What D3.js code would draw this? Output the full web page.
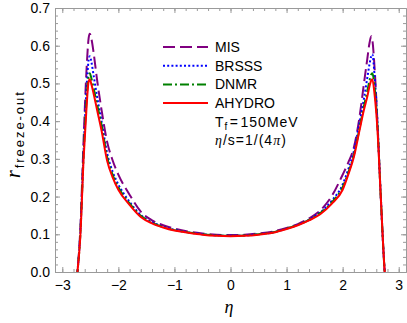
<!DOCTYPE html>
<html>
<head>
<meta charset="utf-8">
<script src="https://cdn.jsdelivr.net/npm/d3@7"></script>
<style>
  body { margin: 0; background: #fff; }
  svg { display: block; font-family: "Liberation Sans", Arial, sans-serif; }
</style>
</head>
<body>
<div id="chart"></div>
<script>
// eta grid shared by every curve
let eta = [-2.78,-2.73,-2.68,-2.62,-2.57,-2.53,-2.51,-2.48,-2.44,-2.38,-2.3,-2.2,-2.1,-2.0,-1.8,-1.6,-1.4,-1.2,-1.0,-0.75,-0.5,-0.25,0,
           0.25,0.5,0.75,1.0,1.2,1.4,1.6,1.8,2.0,2.1,2.2,2.3,2.38,2.44,2.48,2.51,2.53,2.57,2.62,2.68,2.75,2.8];

let mis = [-0.07,0.0,0.11,0.35,0.53,0.62,0.632,0.618,0.58,0.51,0.43,0.345,0.295,0.258,0.205,0.16,0.137,0.124,0.115,0.107,0.102,0.099,0.098,
           0.099,0.102,0.107,0.117,0.127,0.142,0.163,0.2,0.258,0.29,0.33,0.41,0.5,0.565,0.608,0.625,0.615,0.54,0.4,0.2,0.0,-0.09];
let brsss = [-0.065,0.0,0.1,0.32,0.48,0.562,0.572,0.556,0.52,0.465,0.4,0.315,0.265,0.232,0.186,0.151,0.132,0.12,0.112,0.105,0.1,0.097,0.096,
             0.097,0.1,0.105,0.115,0.125,0.139,0.158,0.188,0.232,0.272,0.32,0.395,0.46,0.515,0.552,0.572,0.577,0.52,0.4,0.2,0.0,-0.085];
let dnmr = [-0.06,0.0,0.095,0.31,0.45,0.52,0.527,0.513,0.487,0.445,0.39,0.305,0.257,0.225,0.182,0.149,0.131,0.119,0.111,0.105,0.1,0.097,0.096,
            0.097,0.1,0.105,0.115,0.125,0.138,0.156,0.184,0.225,0.263,0.31,0.38,0.44,0.48,0.508,0.524,0.527,0.49,0.39,0.2,0.0,-0.08];
let ahydro = [-0.06,0.0,0.09,0.30,0.43,0.505,0.511,0.497,0.472,0.43,0.375,0.295,0.25,0.218,0.178,0.146,0.129,0.118,0.110,0.104,0.099,0.096,0.095,
              0.096,0.099,0.104,0.114,0.124,0.137,0.153,0.18,0.218,0.258,0.305,0.375,0.43,0.465,0.493,0.508,0.511,0.47,0.38,0.2,0.0,-0.08];

let names = ['MIS', 'BRSSS', 'DNMR', 'AHYDRO'];
let xTicks = [-3, -2, -1, 0, 1, 2, 3];
let yTicks = [0, 0.1, 0.2, 0.3, 0.4, 0.5, 0.6, 0.7];

let styles = [
  {color: '#800080', dash: '12,5', width: 2},
  {color: '#0000ff', dash: '2,2.2', width: 2},
  {color: '#008000', dash: '9,3,2,3', width: 2},
  {color: '#ff0000', dash: null, width: 2}
];

let width = 407, height = 323;
let plot = {left: 55, right: 406, top: 8, bottom: 272};
let frameColor = '#9a9a9a';

let x = d3.scaleLinear().domain([-3.13, 3.13]).range([plot.left, plot.right]);
let y = d3.scaleLinear().domain([0, 0.7]).range([plot.bottom, plot.top]);

let svg = d3.select('#chart').append('svg')
    .attr('width', width)
    .attr('height', height);

svg.append('clipPath').attr('id', 'clip')
  .append('rect')
    .attr('x', plot.left).attr('y', plot.top)
    .attr('width', plot.right - plot.left).attr('height', plot.bottom - plot.top);

let fmtX = d => d < 0 ? '\u2212' + Math.abs(d) : String(d);
let fmtY = d3.format('.1f');

let xMinor = d3.range(-3, 3.01, 0.2).map(v => +v.toFixed(2));
let yMinor = d3.range(0, 0.701, 0.02).map(v => +v.toFixed(2));

// bottom / top
svg.append('g').attr('transform', `translate(0,${plot.bottom})`)
    .call(d3.axisBottom(x).tickValues(xMinor).tickSizeInner(-3).tickSizeOuter(0).tickFormat(''));
svg.append('g').attr('class', 'xlab').attr('transform', `translate(0,${plot.bottom})`)
    .call(d3.axisBottom(x).tickValues(xTicks).tickSizeInner(-5).tickSizeOuter(0).tickPadding(8).tickFormat(fmtX));
svg.append('g').attr('transform', `translate(0,${plot.top})`)
    .call(d3.axisTop(x).tickValues(xMinor).tickSizeInner(-3).tickSizeOuter(0).tickFormat(''));
svg.append('g').attr('transform', `translate(0,${plot.top})`)
    .call(d3.axisTop(x).tickValues(xTicks).tickSizeInner(-5).tickSizeOuter(0).tickFormat(''));

// left / right
svg.append('g').attr('transform', `translate(${plot.left},0)`)
    .call(d3.axisLeft(y).tickValues(yMinor).tickSizeInner(-3).tickSizeOuter(0).tickFormat(''));
svg.append('g').attr('class', 'ylab').attr('transform', `translate(${plot.left},0)`)
    .call(d3.axisLeft(y).tickValues(yTicks).tickSizeInner(-5).tickSizeOuter(0).tickPadding(5).tickFormat(fmtY));
svg.append('g').attr('transform', `translate(${plot.right},0)`)
    .call(d3.axisRight(y).tickValues(yMinor).tickSizeInner(-3).tickSizeOuter(0).tickFormat(''));
svg.append('g').attr('transform', `translate(${plot.right},0)`)
    .call(d3.axisRight(y).tickValues(yTicks).tickSizeInner(-5).tickSizeOuter(0).tickFormat(''));

svg.selectAll('.domain').attr('stroke', frameColor);
svg.selectAll('.tick line').attr('stroke', frameColor);
svg.selectAll('.tick text').attr('font-size', 14).attr('fill', '#000')
    .attr('font-family', '"Liberation Sans", Arial, sans-serif');

// curves
let series = [mis, brsss, dnmr, ahydro].map((vals, i) => ({
  name: names[i],
  style: styles[i],
  points: eta.map((e, j) => [e, vals[j]])
}));

let line = d3.line()
    .x(d => x(d[0]))
    .y(d => y(d[1]))
    .curve(d3.curveMonotoneX);

svg.append('g').attr('clip-path', 'url(#clip)')
  .selectAll('path')
  .data(series)
  .enter().append('path')
    .attr('fill', 'none')
    .attr('stroke', d => d.style.color)
    .attr('stroke-width', d => d.style.width)
    .attr('stroke-dasharray', d => d.style.dash)
    .attr('d', d => line(d.points));

// legend
let legend = svg.append('g').attr('transform', 'translate(163,47)');
let row = legend.selectAll('g')
  .data(series)
  .enter().append('g')
    .attr('transform', (d, i) => `translate(0,${i * 18.7})`);
row.append('line')
    .attr('x1', 0).attr('x2', 45)
    .attr('stroke', d => d.style.color)
    .attr('stroke-width', 2)
    .attr('stroke-dasharray', d => d.style.dash);
row.append('text')
    .attr('x', 52).attr('y', 5)
    .attr('font-size', 14)
    .text(d => d.name);

let tf = legend.append('text').attr('x', 52).attr('y', 80).attr('font-size', 14).attr('letter-spacing', 1);
tf.append('tspan').text('T');
tf.append('tspan').attr('font-size', 10).attr('dy', 3).text('f');
tf.append('tspan').attr('dy', -3).attr('dx', 1.5).text('=');
tf.append('tspan').attr('dx', 1.5).text('150MeV');

let vs = legend.append('text').attr('x', 52).attr('y', 98).attr('font-size', 14).attr('letter-spacing', 1);
vs.append('tspan').attr('font-family', '"Liberation Serif", "Times New Roman", serif').attr('font-style', 'italic').text('\u03b7');
vs.append('tspan').text('/s=1/(4');
vs.append('tspan').attr('font-family', '"Liberation Serif", "Times New Roman", serif').attr('font-style', 'italic').text('\u03c0');
vs.append('tspan').text(')');

// axis titles
svg.append('text')
    .attr('x', 229).attr('y', 313)
    .attr('text-anchor', 'middle')
    .attr('font-family', '"Liberation Serif", "Times New Roman", serif')
    .attr('font-style', 'italic')
    .attr('font-size', 18)
    .text('\u03b7');

let yl = svg.append('text')
    .attr('transform', 'translate(20,178) rotate(-90)')
    .attr('font-size', 20);
yl.append('tspan')
    .attr('font-family', '"Liberation Serif", "Times New Roman", serif')
    .attr('font-style', 'italic')
    .text('r');
yl.append('tspan')
    .attr('font-size', 13)
    .attr('dy', 4)
    .attr('dx', 2)
    .attr('textLength', 76)
    .text('freeze-out');
</script>
</body>
</html>
